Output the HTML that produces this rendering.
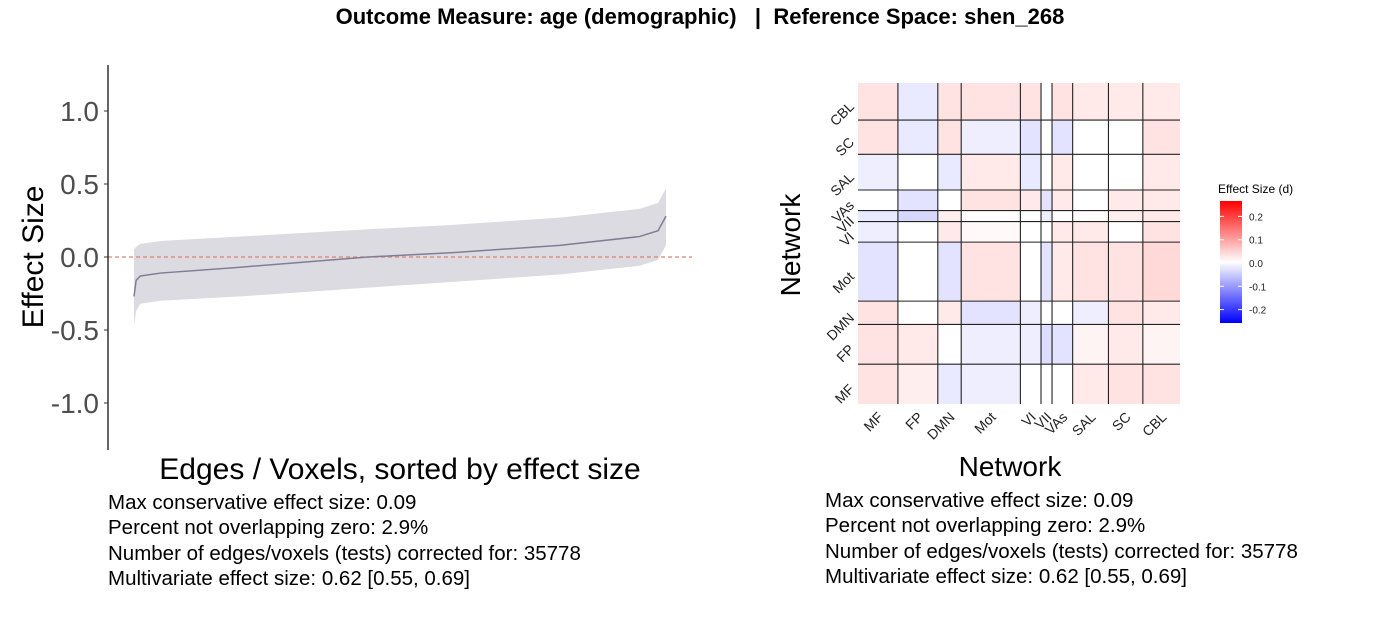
<!DOCTYPE html>
<html><head><meta charset="utf-8"><style>
body{margin:0;background:#fff;width:1400px;height:600px;overflow:hidden;font-family:"Liberation Sans",sans-serif}
.t{position:absolute;white-space:nowrap}
</style></head><body>
<div class="t" style="left:0;width:1400px;text-align:center;top:4px;font-size:22px;font-weight:bold">Outcome Measure: age (demographic) &nbsp; | &nbsp;Reference Space: shen_268</div>
<svg id="s" width="1400" height="600" style="position:absolute;left:0;top:30px;overflow:visible"></svg>
<div class="t" style="left:108px;top:490px;font-size:20.5px;line-height:25.3px">Max conservative effect size: 0.09<br>Percent not overlapping zero: 2.9%<br>Number of edges/voxels (tests) corrected for: 35778<br>Multivariate effect size: 0.62 [0.55, 0.69]</div>
<div class="t" style="left:825px;top:488px;font-size:20.5px;line-height:25.3px">Max conservative effect size: 0.09<br>Percent not overlapping zero: 2.9%<br>Number of edges/voxels (tests) corrected for: 35778<br>Multivariate effect size: 0.62 [0.55, 0.69]</div>
<script>
const ranks=[0,0.004,0.012,0.05,0.2,0.44,0.6,0.8,0.95,0.985,1.0];
const estimate=[-0.27,-0.16,-0.13,-0.11,-0.07,0,0.03,0.08,0.14,0.18,0.28];
const upper=[0.05,0.07,0.09,0.11,0.14,0.19,0.22,0.27,0.33,0.37,0.47];
const lower=[-0.47,-0.37,-0.32,-0.30,-0.27,-0.21,-0.17,-0.12,-0.06,-0.02,0.08];
const yTicks=[1.0,0.5,0.0,-0.5,-1.0];
const networks=["MF","FP","DMN","Mot","VI","VII","VAs","SAL","SC","CBL"];
const netSizes=[29,29,17,43,15,8,15,26,25,27];
const blockMeans=[
[0.05,0.03,-0.04,-0.03,0.0,0.0,0.0,0.04,0.05,0.05],
[0.05,0.04,0.0,-0.03,-0.03,-0.06,-0.05,0.02,0.04,0.02],
[0.05,0.0,0.04,-0.05,-0.03,0.0,0.0,-0.03,0.05,0.04],
[-0.05,0.0,-0.05,0.05,0.0,-0.05,0.04,0.05,0.05,0.07],
[-0.03,0.0,0.04,0.01,0.0,0.0,0.04,0.04,0.0,0.05],
[-0.04,-0.07,0.03,0.0,0.0,-0.03,0.0,0.0,0.03,0.04],
[0.0,-0.05,0.0,0.05,0.04,-0.05,0.04,0.0,0.04,0.04],
[-0.03,0.0,-0.04,0.04,-0.04,0.0,0.04,0.0,0.0,0.04],
[0.05,-0.04,0.05,-0.03,-0.05,0.0,-0.05,0.0,0.0,0.05],
[0.05,-0.04,0.05,0.05,0.05,0.0,0.05,0.04,0.04,0.04]];
const legendTicks=[0.2,0.1,0.0,-0.1,-0.2];

const NS="http://www.w3.org/2000/svg";
const s=document.getElementById('s');
function el(t,a,p){const e=document.createElementNS(NS,t);for(const k in a)e.setAttribute(k,a[k]);(p||s).appendChild(e);return e;}
const X=r=>134+r*(666-134);
const Y=v=>227-v*146;
let d="M"+ranks.map((r,i)=>X(r)+","+Y(upper[i])).join("L")+"L"+ranks.map((r,i)=>X(r)+","+Y(lower[i])).reverse().join("L")+"Z";
let band=el('path',{d:d,fill:'#dcdbe1'});


let zl=el('line',{x1:108,x2:692,y1:Y(0),y2:Y(0),stroke:'#e08070','stroke-width':1.2,'stroke-dasharray':'4,3'});


let ln=el('path',{d:"M"+ranks.map((r,i)=>X(r)+","+Y(estimate[i])).join("L"),fill:'none',stroke:'#807d96','stroke-width':1.5});


let ax=el('line',{x1:108,x2:108,y1:35,y2:420,stroke:'#000','stroke-width':1.2});


yTicks.forEach(v=>{
 el('line',{x1:104,x2:108,y1:Y(v),y2:Y(v),stroke:'#333'});
 const t=el('text',{x:99,y:Y(v)+10,'text-anchor':'end','font-size':28,fill:'#4d4d4d'});t.textContent=v.toFixed(1);
 
 
});
let yt=el('text',{transform:'translate(43,227) rotate(-90)','text-anchor':'middle','font-size':30});yt.textContent='Effect Size';


let xt=el('text',{x:400,y:449,'text-anchor':'middle','font-size':30});xt.textContent='Edges / Voxels, sorted by effect size';


const HX0=858,HX1=1180,HY0=53,HY1=374;
const total=netSizes.reduce((a,b)=>a+b,0);
const cum=[0];netSizes.forEach(n=>cum.push(cum[cum.length-1]+n));
const hx=i=>HX0+cum[i]/total*(HX1-HX0);
const hy=i=>HY1-cum[i]/total*(HY1-HY0);
function col(v){const f=Math.min(1,Math.abs(v)*0.55/0.25);const c=Math.round(255*(1-f));return v>=0?`rgb(255,${c},${c})`:`rgb(${c},${c},255)`;}
networks.forEach((rn,r)=>networks.forEach((cn,c)=>{
 const rc=el('rect',{x:hx(c),y:hy(r+1),width:hx(c+1)-hx(c),height:hy(r)-hy(r+1),fill:col(blockMeans[r][c])});
 
 
}));
for(let i=1;i<networks.length;i++){
 el('line',{x1:hx(i),x2:hx(i),y1:HY0,y2:HY1,stroke:'#222','stroke-width':1.1});
 el('line',{x1:HX0,x2:HX1,y1:hy(i),y2:hy(i),stroke:'#222','stroke-width':1.1});
}
networks.forEach((n,i)=>{
 const cx=(hx(i)+hx(i+1))/2, cy=(hy(i)+hy(i+1))/2;
 const a=el('text',{transform:`translate(${cx+6},${HY1+14}) rotate(-45)`,'text-anchor':'end','font-size':14,fill:'#222'});a.textContent=n;
 
 
 const b=el('text',{transform:`translate(${HX0-3},${cy+6}) rotate(-45)`,'text-anchor':'end','font-size':14,fill:'#222'});b.textContent=n;
 
 
});
let ht=el('text',{transform:'translate(800,215) rotate(-90)','text-anchor':'middle','font-size':28});ht.textContent='Network';


let hxt=el('text',{x:1010,y:446,'text-anchor':'middle','font-size':28});hxt.textContent='Network';


const LY=v=>233-v*233;
const g=el('linearGradient',{id:'lg',x1:0,x2:0,y1:0,y2:1},el('defs',{}));
[['0','#ff0000'],['0.5','#ffffff'],['1','#0000ff']].forEach(([o,c])=>el('stop',{offset:o,'stop-color':c},g));
let lb=el('rect',{x:1220,y:171,width:22,height:122,fill:'url(#lg)'});


let lt=el('text',{x:1218,y:163,'font-size':12});lt.textContent='Effect Size (d)';


legendTicks.forEach(v=>{
 el('line',{x1:1220,x2:1224,y1:LY(v),y2:LY(v),stroke:'#fff'});
 el('line',{x1:1238,x2:1242,y1:LY(v),y2:LY(v),stroke:'#fff'});
 const t=el('text',{x:1249,y:LY(v)+4,'font-size':10,fill:'#222'});t.textContent=v.toFixed(1);
 
 
});
</script>
</body></html>
